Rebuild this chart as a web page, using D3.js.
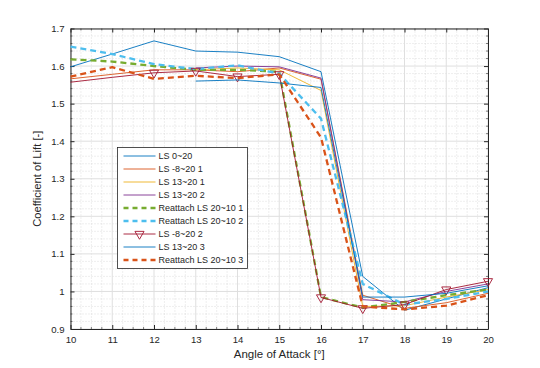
<!DOCTYPE html>
<html><head><meta charset="utf-8">
<script src="https://cdn.jsdelivr.net/npm/d3@7"></script>
<style>html,body{margin:0;padding:0;background:#fff;}svg{display:block;font-family:"Liberation Sans",Arial,sans-serif;}</style>
</head><body><svg id="c" width="540" height="368"></svg>
<script>
const angles = [10,11,12,13,14,15,16,17,18,19,20];
const names = ["LS 0~20","LS -8~20 1","LS 13~20 1","LS 13~20 2","Reattach LS 20~10 1","Reattach LS 20~10 2","LS -8~20 2","LS 13~20 3","Reattach LS 20~10 3"];
const ls0_20      = [1.598,1.632,1.667,1.640,1.637,1.625,1.585,1.040,0.950,0.980,1.010];
const lsm8_20_1   = [1.566,1.578,1.590,1.590,1.585,1.595,1.565,0.990,0.955,0.970,0.995];
const ls13_20_1   = [null,null,null,1.590,1.595,1.590,1.535,0.960,0.962,0.985,1.005];
const ls13_20_2   = [null,null,null,1.595,1.600,1.598,1.568,0.978,0.972,1.000,1.020];
const reatt1      = [1.618,1.612,1.600,1.590,1.590,1.585,0.985,0.957,0.972,0.990,1.005];
const reatt2      = [1.652,1.632,1.605,1.592,1.602,1.580,1.460,1.020,0.965,0.980,1.000];
const lsm8_20_2   = [1.557,1.570,1.582,1.587,1.572,1.578,0.984,0.955,0.965,1.005,1.027];
const ls13_20_3   = [null,null,null,1.560,1.563,1.555,1.543,0.985,0.985,0.995,1.015];
const reatt3      = [1.572,1.597,1.566,1.574,1.568,1.578,1.410,0.960,0.952,0.962,0.990];
const markerAngles = [12,13,14,15,16,17,18,19,20];
const seriesVals = [ls0_20,lsm8_20_1,ls13_20_1,ls13_20_2,reatt1,reatt2,lsm8_20_2,ls13_20_3,reatt3];
const colors = ["#0072BD","#D95319","#EDB120","#7E2F8E","#77AC30","#4DBEEE","#A2142F","#0072BD","#D95319"];
const dashed = [false,false,false,false,true,true,false,false,true];
const markers = [false,false,false,false,false,false,true,false,false];
const xTicks = [10,11,12,13,14,15,16,17,18,19,20];
const yTicks = [0.9,1,1.1,1.2,1.3,1.4,1.5,1.6,1.7];
const yTickLabels = ["0.9","1","1.1","1.2","1.3","1.4","1.5","1.6","1.7"];

const svg = d3.select("#c");
const L=70.5,R=488,T=28.5,B=329;
const x = d3.scaleLinear().domain([10,20]).range([L,R]);
const y = d3.scaleLinear().domain([0.9,1.7]).range([B,T]);
const axisCol="#262626";

const xMinor = d3.range(10,20.001,0.25).filter(v=>Math.abs(v-Math.round(v))>1e-6);
const yMinor = d3.range(0.9,1.7001,0.02).filter(v=>Math.abs(v*10-Math.round(v*10))>1e-6);
const g = svg.append("g");
g.selectAll(".xm").data(xMinor).join("line").attr("x1",d=>x(d)).attr("x2",d=>x(d)).attr("y1",T).attr("y2",B)
 .attr("stroke","#c8c8c8").attr("stroke-width",0.6).attr("stroke-dasharray","1,2");
g.selectAll(".ym").data(yMinor).join("line").attr("y1",d=>y(d)).attr("y2",d=>y(d)).attr("x1",L).attr("x2",R)
 .attr("stroke","#c8c8c8").attr("stroke-width",0.6).attr("stroke-dasharray","1,2");
g.selectAll(".xg").data(xTicks).join("line").attr("x1",d=>x(d)).attr("x2",d=>x(d)).attr("y1",T).attr("y2",B)
 .attr("stroke","#dfdfdf").attr("stroke-width",1);
g.selectAll(".yg").data(yTicks).join("line").attr("y1",d=>y(d)).attr("y2",d=>y(d)).attr("x1",L).attr("x2",R)
 .attr("stroke","#dfdfdf").attr("stroke-width",1);

const xAxis = d3.axisBottom(x).tickValues(xTicks).tickFormat(d3.format("d")).tickSizeInner(-4).tickSizeOuter(0).tickPadding(7);
const yAxis = d3.axisLeft(y).tickValues(yTicks).tickFormat((d,i)=>yTickLabels[i]).tickSizeInner(-4).tickSizeOuter(0).tickPadding(6);
const gx = svg.append("g").attr("transform",`translate(0,${B})`).call(xAxis);
const gy = svg.append("g").attr("transform",`translate(${L},0)`).call(yAxis);
[gx,gy].forEach(a=>{a.select(".domain").attr("stroke",axisCol);a.selectAll(".tick line").attr("stroke",axisCol);
 a.selectAll("text").attr("fill",axisCol).attr("font-size",9.6).attr("font-family","Liberation Sans, Arial, sans-serif");});
svg.append("g").selectAll("line").data(xMinor).join("line").attr("x1",d=>x(d)).attr("x2",d=>x(d)).attr("y1",B).attr("y2",B-2).attr("stroke",axisCol).attr("stroke-width",0.6);
svg.append("g").selectAll("line").data(xMinor).join("line").attr("x1",d=>x(d)).attr("x2",d=>x(d)).attr("y1",T).attr("y2",T+2).attr("stroke",axisCol).attr("stroke-width",0.6);
svg.append("g").selectAll("line").data(yMinor).join("line").attr("y1",d=>y(d)).attr("y2",d=>y(d)).attr("x1",L).attr("x2",L+2).attr("stroke",axisCol).attr("stroke-width",0.6);
svg.append("g").selectAll("line").data(yMinor).join("line").attr("y1",d=>y(d)).attr("y2",d=>y(d)).attr("x1",R).attr("x2",R-2).attr("stroke",axisCol).attr("stroke-width",0.6);
const xTop = d3.axisTop(x).tickValues(xTicks).tickFormat("").tickSizeInner(-4).tickSizeOuter(0);
const yRight = d3.axisRight(y).tickValues(yTicks).tickFormat("").tickSizeInner(-4).tickSizeOuter(0);
const gt=svg.append("g").attr("transform",`translate(0,${T})`).call(xTop);
const gr=svg.append("g").attr("transform",`translate(${R},0)`).call(yRight);
[gt,gr].forEach(a=>{a.select(".domain").attr("stroke",axisCol);a.selectAll(".tick line").attr("stroke",axisCol);});

const line = d3.line().defined(d=>d.v!=null).x(d=>x(d.a)).y(d=>y(d.v));
const plot = svg.append("g");
seriesVals.forEach((vals,i)=>{
  const data = angles.map((a,k)=>({a:a,v:vals[k]}));
  plot.append("path").datum(data).attr("d",line).attr("fill","none")
    .attr("stroke",colors[i]).attr("stroke-width",dashed[i]?2.3:0.9)
    .attr("stroke-dasharray",dashed[i]?"6,4":null).attr("stroke-linejoin","round");
  if(markers[i]){
    plot.selectAll(null).data(data.filter(d=>d.v!=null && markerAngles.includes(d.a))).join("path")
      .attr("d",d3.symbol(d3.symbolTriangle,36)).attr("transform",d=>`translate(${x(d.a)},${y(d.v)}) rotate(180)`)
      .attr("fill","none").attr("stroke",colors[i]).attr("stroke-width",0.9);
  }
});

svg.append("text").attr("x",(L+R)/2).attr("y",358).attr("text-anchor","middle").attr("font-size",11.5).attr("fill",axisCol).text("Angle of Attack [°]");
svg.append("text").attr("transform",`translate(41,${(T+B)/2}) rotate(-90)`).attr("text-anchor","middle").attr("font-size",11.2).attr("fill",axisCol).text("Coefficient of Lift [-]");

const lg = svg.append("g");
const lx=117.5, ly=147.5, lw=130, lh=121;
lg.append("rect").attr("x",lx).attr("y",ly).attr("width",lw).attr("height",lh).attr("fill","#fff").attr("stroke",axisCol).attr("stroke-width",0.8);
names.forEach((n,i)=>{
  const yy = ly+8.5+i*13;
  lg.append("line").attr("x1",lx+6).attr("x2",lx+38).attr("y1",yy).attr("y2",yy)
    .attr("stroke",colors[i]).attr("stroke-width",dashed[i]?2.3:0.9).attr("stroke-dasharray",dashed[i]?"5,4":null);
  if(markers[i]) lg.append("path").attr("d",d3.symbol(d3.symbolTriangle,36)).attr("transform",`translate(${lx+22},${yy}) rotate(180)`).attr("fill","none").attr("stroke",colors[i]).attr("stroke-width",0.9);
  lg.append("text").attr("x",lx+41).attr("y",yy+3.3).attr("font-size",9).attr("fill","#262626").text(n);
});
</script></body></html>
